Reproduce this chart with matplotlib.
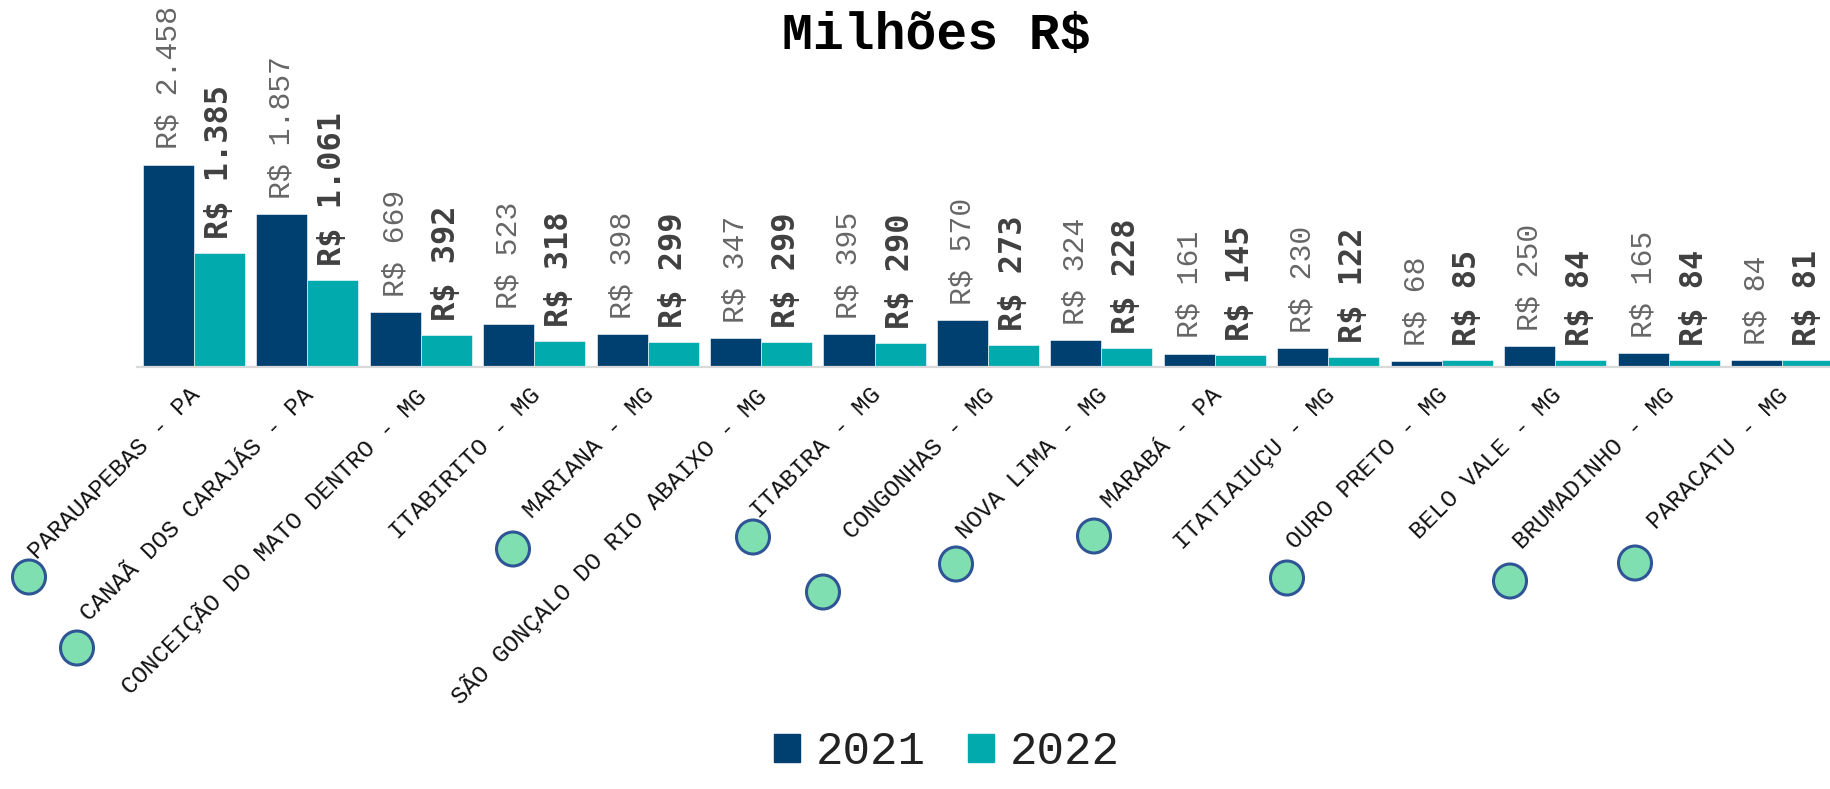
import matplotlib
matplotlib.use("Agg")
import matplotlib.pyplot as plt
from matplotlib.patches import Ellipse, Patch
from matplotlib.transforms import ScaledTranslation
import numpy as np

# dados (milhões R$)
municipios = ["PARAUAPEBAS - PA", "CANAÃ DOS CARAJÁS - PA", "CONCEIÇÃO DO MATO DENTRO - MG",
              "ITABIRITO - MG", "MARIANA - MG", "SÃO GONÇALO DO RIO ABAIXO - MG",
              "ITABIRA - MG", "CONGONHAS - MG", "NOVA LIMA - MG", "MARABÁ - PA",
              "ITATIAIUÇU - MG", "OURO PRETO - MG", "BELO VALE - MG", "BRUMADINHO - MG",
              "PARACATU - MG"]
valores_2021 = [2458, 1857, 669, 523, 398, 347, 395, 570, 324, 161, 230, 68, 250, 165, 84]
valores_2022 = [1385, 1061, 392, 318, 299, 299, 290, 273, 228, 145, 122, 85, 84, 84, 81]
anos = ["2021", "2022"]

cor_2021 = "#004070"
cor_2022 = "#00AAAD"


def fmt(v):
    return "R$ " + f"{v:,}".replace(",", ".")


W, H = 1831, 789
fig = plt.figure(figsize=(W / 100, H / 100), dpi=100)
ax = fig.add_axes([137 / W, 1 - 367 / H, 1 - 137 / W, 367 / H])

x = np.arange(len(municipios))
larg = 0.45
b1 = ax.bar(x - larg / 2, valores_2021, larg, color=cor_2021, edgecolor="white", linewidth=0.4)
b2 = ax.bar(x + larg / 2, valores_2022, larg, color=cor_2022, edgecolor="white", linewidth=0.4)

ax.set_xlim(-0.5, 14.43)
ax.set_ylim(0, 4455)

# rótulos de valor
for rect, v in zip(b1, valores_2021):
    ax.annotate(fmt(v), (rect.get_x() + rect.get_width() / 2, rect.get_height()),
                xytext=(0, 11), textcoords="offset points", rotation=90,
                ha="center", va="bottom", fontsize=21.5, family="Liberation Mono",
                color="#666666")
for rect, v in zip(b2, valores_2022):
    ax.annotate(fmt(v), (rect.get_x() + rect.get_width() / 2, rect.get_height()),
                xytext=(0, 10), textcoords="offset points", rotation=90,
                ha="center", va="bottom", fontsize=23, family="DejaVu Sans Mono",
                fontweight="bold", color="#404040", annotation_clip=False)

# eixos
for s in ["top", "right", "left"]:
    ax.spines[s].set_visible(False)
ax.spines["bottom"].set_color("#d9d9d9")
ax.spines["bottom"].set_linewidth(1.6)
ax.set_yticks([])
ax.set_xticks(x)
ax.set_xticklabels(municipios, rotation=45, ha="right", fontsize=17.5,
                   family="Liberation Mono", color="#111111")
ax.tick_params(axis="x", length=0, pad=12)
for lab in ax.get_xticklabels():
    lab.set_transform(lab.get_transform() + ScaledTranslation(11 / 100, 0, fig.dpi_scale_trans))

# título
fig.text(936 / W, 1 - 36 / H, "Milhões R$", ha="center", va="center",
         fontsize=37, fontweight="bold", family="Liberation Mono")

# legenda
handles = [Patch(color=cor_2021), Patch(color=cor_2022)]
fig.legend(handles, anos, loc="lower center", bbox_to_anchor=(947 / W, -0.01),
           ncol=2, frameon=False, prop={"family": "Liberation Mono", "size": 33},
           labelcolor="#222222",
           handlelength=0.57, handleheight=0.57, handletextpad=0.34,
           columnspacing=0.93, borderpad=0)

# círculos decorativos
circulos = [(29, 577), (77, 648), (513, 549), (753, 537), (823, 592),
            (956, 564), (1094, 536), (1287, 578), (1510, 581), (1635, 563)]
for cx, cy in circulos:
    fig.patches.append(Ellipse((cx / W, 1 - cy / H), 33 / W, 34 / H,
                               transform=fig.transFigure, facecolor="#80DFB0",
                               edgecolor="#2F5597", linewidth=2.2))

plt.savefig("out.png", dpi=100)
